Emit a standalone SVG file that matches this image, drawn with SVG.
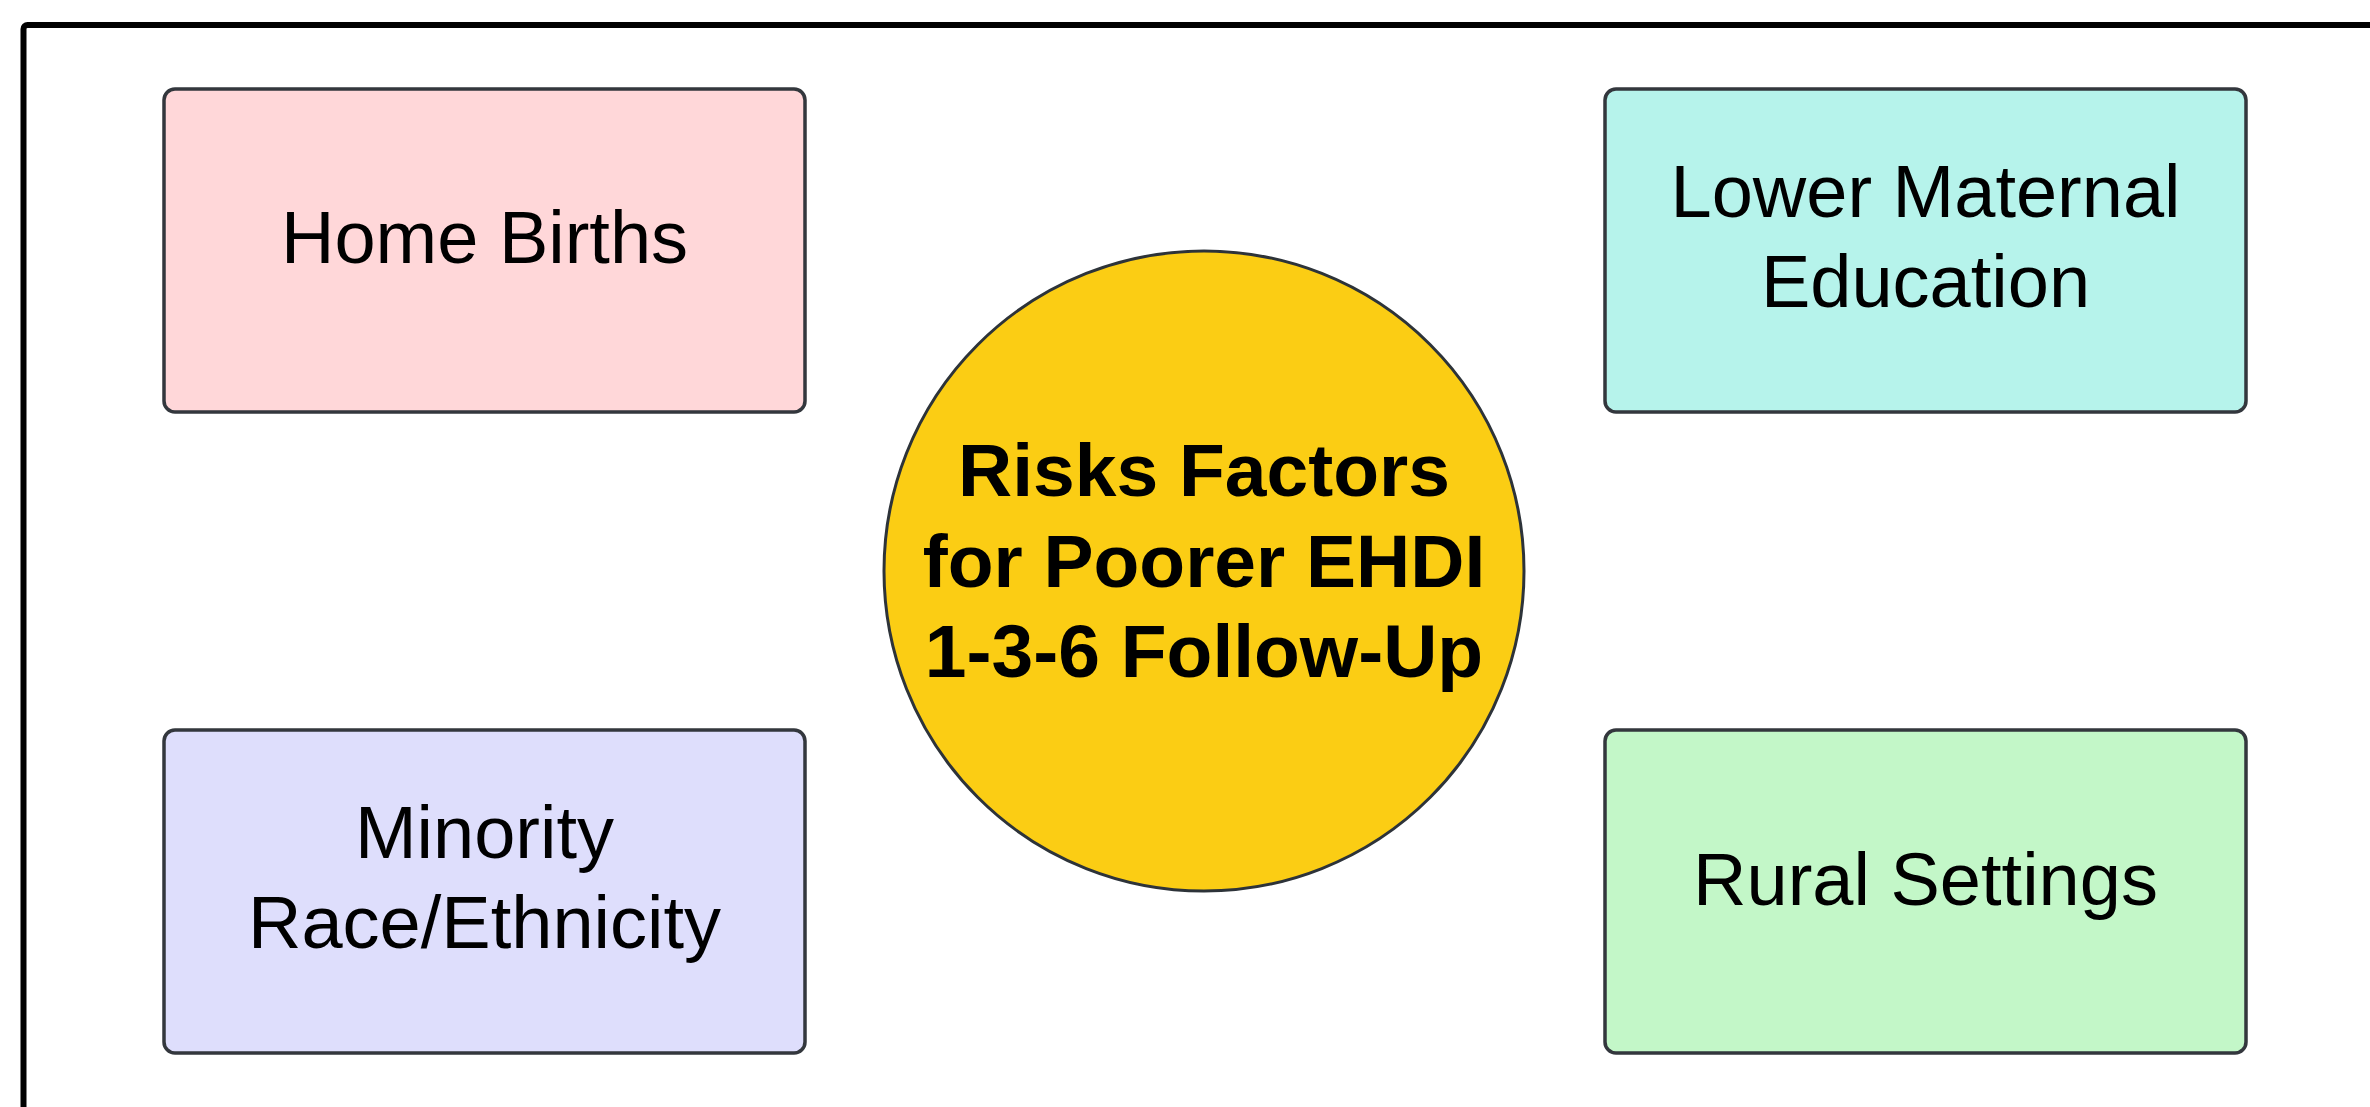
<svg xmlns="http://www.w3.org/2000/svg" width="2370" height="1107" viewBox="0 0 2370 1107">
<style>
.box{stroke:#33373d;stroke-width:3.5}
.lbl{font-family:"Liberation Sans",Arial,sans-serif;font-size:74px;fill:#000;text-anchor:middle}
.ttl{font-family:"Liberation Sans",Arial,sans-serif;font-size:75px;font-weight:bold;fill:#000;text-anchor:middle}
</style>
<rect width="2370" height="1107" fill="#ffffff"/>
<rect x="23.5" y="25" width="2400" height="1150" rx="4" fill="none" stroke="#000" stroke-width="6"/>
<g id="connectors"></g>
<g id="home-births">
<rect class="box" x="164" y="89" width="641" height="323" rx="11" fill="#ffd7d9"/>
<text class="lbl" x="484.5" y="263">Home Births</text>
</g>
<g id="lower-maternal-education">
<rect class="box" x="1605" y="89" width="641" height="323" rx="11" fill="#b6f3eb"/>
<text class="lbl" x="1925.5" y="217">Lower Maternal</text>
<text class="lbl" x="1925.5" y="307">Education</text>
</g>
<g id="minority-race-ethnicity">
<rect class="box" x="164" y="730" width="641" height="323" rx="11" fill="#dedefc"/>
<text class="lbl" x="484.5" y="858">Minority</text>
<text class="lbl" x="484.5" y="948">Race/Ethnicity</text>
</g>
<g id="rural-settings">
<rect class="box" x="1605" y="730" width="641" height="323" rx="11" fill="#c3f7c8"/>
<text class="lbl" x="1925.5" y="905">Rural Settings</text>
</g>
<g id="risk-factors">
<circle cx="1204" cy="571" r="320" fill="#fbcd14" stroke="#2d3339" stroke-width="3"/>
<text class="ttl" x="1204" y="496">Risks Factors</text>
<text class="ttl" x="1204" y="587">for Poorer EHDI</text>
<text class="ttl" x="1204" y="677">1-3-6 Follow-Up</text>
</g>
</svg>
